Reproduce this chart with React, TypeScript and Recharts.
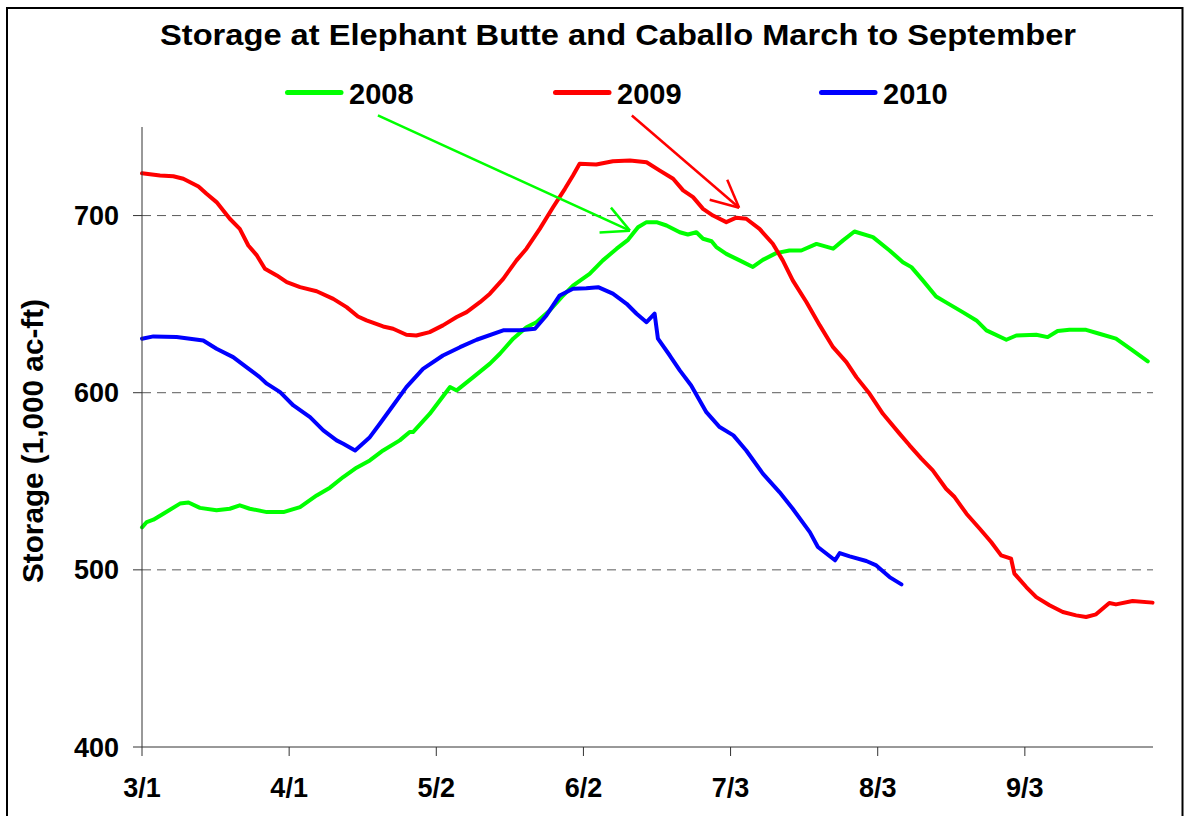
import { LineChart, Line, XAxis, YAxis, CartesianGrid, ReferenceLine } from 'recharts'

// days after 3/1
const tickDays = [0, 31, 62, 93, 124, 155, 186]
const tickLabels = ['3/1', '4/1', '5/2', '6/2', '7/3', '8/3', '9/3']
const yTicks = [400, 500, 600, 700]
const gridValues = [500, 600, 700]

const days2008 = [0, 1, 2.4, 4.5, 8, 9.8, 12.2, 15.7, 18.5, 20.6, 22.7, 26.3, 29.8, 33.3, 36.8, 39.6, 42.4, 45.2, 48, 50.8, 54.3, 56.4, 57.1, 60.6, 64.9, 66.3, 69.8, 73.3, 75.4, 78.2, 81, 83.1, 85.9, 88.4, 90.8, 94.3, 97.1, 100, 102.4, 104.5, 106.3, 108.4, 110.5, 113.3, 115, 116.8, 118.2, 120, 121, 123.1, 125.9, 128.7, 130.8, 133.6, 136.4, 138.9, 142.1, 145.6, 147.7, 150.1, 154, 157.5, 160.3, 162.1, 164.5, 167.3, 169.4, 172.9, 175.8, 177.9, 182.1, 184.2, 188.4, 190.8, 192.9, 195.4, 198.9, 201.7, 205.2, 208.7, 211.9]
const storage2008 = [524, 527, 528.3, 531.7, 537.4, 538, 535, 533.6, 534.5, 536.4, 534.5, 532.6, 532.6, 535.4, 542, 546.4, 552.4, 557.7, 561.8, 567.4, 573.1, 577.8, 577.8, 588, 603.2, 601.3, 608.8, 616.4, 622, 630.5, 637, 639.8, 646.4, 654, 660.5, 667.1, 674.7, 681.3, 686.3, 693.4, 696.3, 696.3, 694.4, 690.6, 689.3, 690.6, 686.9, 685.5, 682.2, 678.4, 674.7, 671, 675, 678.8, 680.3, 680.3, 684, 681.3, 686, 691, 687.8, 680.3, 673.7, 670.9, 663.4, 654.3, 651, 645.5, 640.8, 635.2, 629.9, 632.3, 632.7, 631.4, 634.8, 635.5, 635.5, 633.3, 630.5, 623.9, 617.7]

const days2009 = [0, 3.8, 6.6, 8.7, 11.9, 13.6, 15.7, 18.5, 20.6, 22.4, 24.2, 25.9, 28.4, 30.5, 33.3, 36.8, 40.3, 43.1, 45.5, 47.3, 50.8, 52.9, 55.7, 57.8, 60.6, 63.4, 66.3, 68.4, 71.2, 73.3, 76.1, 78.9, 81, 83.8, 86.6, 89.1, 90.8, 92.2, 95.7, 99.2, 102.8, 106.3, 109.1, 111.9, 114, 116.1, 118.2, 120.3, 123.1, 125.2, 127.3, 130.1, 132.9, 135, 137.1, 140, 142.8, 145.6, 148.4, 150.5, 153.3, 156.1, 159.6, 161.7, 164.2, 166.6, 169.4, 171.2, 173.7, 176.5, 178.9, 181, 183.1, 183.8, 186.3, 188.4, 191.2, 194, 196.8, 198.9, 201, 203.8, 205.2, 208.7, 212.9]
const storage2009 = [723.9, 722.6, 722.2, 720.8, 716.4, 712.3, 707.6, 698.2, 692.5, 683.1, 677.5, 670, 666.2, 662.4, 659.6, 657.3, 653, 648.3, 643, 640.8, 637.4, 636.1, 632.7, 632.3, 634.2, 638, 642.7, 645.5, 651.1, 655.9, 664.3, 674.7, 681.3, 692.5, 704.7, 715.1, 722.6, 729.2, 728.8, 730.7, 731.1, 730.1, 725.4, 720.8, 714.2, 710.4, 703.8, 700, 696.3, 698.8, 698.2, 692.5, 684.1, 674.7, 663.4, 651.1, 638, 625.7, 617.3, 608.8, 599.4, 588.1, 576.9, 570.3, 562.8, 556.2, 545.8, 541.1, 531.7, 523.2, 515.7, 508.2, 506.3, 497.9, 490.3, 484.6, 480, 476.2, 474.3, 473.4, 474.9, 481.3, 480.5, 482.4, 481.5]

const days2010 = [0, 2.4, 7.3, 12.9, 15.7, 19.2, 22, 24.8, 26.3, 29.1, 31.9, 35.4, 38.2, 41, 42.4, 44.9, 48, 50.1, 52.9, 55.7, 59.2, 63.4, 67, 70.5, 76.1, 79.6, 82.8, 85.2, 88, 90.8, 93.6, 96.1, 99.2, 102.1, 104.2, 106.3, 108, 108.7, 111.2, 113.3, 115.7, 118.9, 121.7, 124.6, 127.3, 130.8, 134.3, 137.1, 140.7, 142.4, 146, 147, 149.1, 152.6, 154.7, 157.5, 160]
const storage2010 = [630.5, 631.8, 631.4, 629.5, 624.8, 620.1, 614.4, 608.8, 605.1, 600.3, 592.8, 586.2, 578.7, 573.1, 571.2, 567.4, 574.9, 582.5, 592.8, 603.2, 613.5, 621, 625.7, 629.9, 635.2, 635.2, 636.1, 643.6, 654.9, 658.7, 659, 659.6, 655.9, 650.2, 644.6, 639.8, 644.6, 630.5, 621, 612.6, 604.1, 589, 580.6, 575.9, 567.4, 554.3, 543.9, 534.5, 521.3, 512.9, 505.4, 509.5, 507.6, 505, 502.5, 495.9, 491.8]

const seriesNames = ['2008', '2009', '2010']
const seriesColors = ['#00ff00', '#ff0000', '#0000ff']

const series = [
  { days: days2008, values: storage2008 },
  { days: days2009, values: storage2009 },
  { days: days2010, values: storage2010 },
].map((s, i) => ({
  name: seriesNames[i],
  color: seriesColors[i],
  data: s.days.map((d, j) => ({ day: d, value: s.values[j] })),
}))

const FONT = '"Liberation Sans", Arial, Helvetica, sans-serif'
const legendX = [285, 553, 819]

// annotation arrows, in data units (day, storage)
const arrows = [
  { color: '#00ff00', from: { x: 49.7, y: 756.5 }, tip: { x: 102.8, y: 691.5 }, arms: [{ x: 98.8, y: 704.5 }, { x: 96.4, y: 690.4 }] },
  { color: '#ff0000', from: { x: 103.2, y: 756.5 }, tip: { x: 125.8, y: 704.4 }, arms: [{ x: 123.3, y: 720.2 }, { x: 119.6, y: 708.9 }] },
]

export default function App() {
  return (
    <div style={{ position: 'absolute', left: 0, top: 0, width: 1185, height: 816, background: '#fff', overflow: 'hidden' }}>
      <LineChart
        width={1185}
        height={816}
        margin={{ top: 127, right: 32, bottom: 9, left: 82 }}
        style={{ position: 'absolute', left: 0, top: 0 }}
      >
        <CartesianGrid
          vertical={false}
          horizontalValues={gridValues}
          stroke="#5a5a5a"
          strokeWidth={1}
          strokeDasharray="9 6"
        />
        <XAxis
          type="number"
          dataKey="day"
          domain={[0, 213]}
          ticks={tickDays}
          tickFormatter={(v) => tickLabels[tickDays.indexOf(v)] ?? ''}
          height={60}
          tickSize={9}
          tickMargin={22}
          axisLine={{ stroke: '#333', strokeWidth: 1 }}
          tickLine={{ stroke: '#333' }}
          tick={{ fontSize: 27, fontWeight: 700, fill: '#000', fontFamily: FONT }}
          allowDuplicatedCategory={false}
        />
        <YAxis
          type="number"
          domain={[400, 750]}
          ticks={yTicks}
          width={60}
          tickSize={9}
          tickMargin={14}
          axisLine={{ stroke: '#333', strokeWidth: 1 }}
          tickLine={{ stroke: '#333' }}
          tick={{ fontSize: 27, fontWeight: 700, fill: '#000', fontFamily: FONT }}
        />
        {series.map((s) => (
          <Line
            key={s.name}
            data={s.data}
            dataKey="value"
            name={s.name}
            type="linear"
            stroke={s.color}
            strokeWidth={4}
            strokeLinejoin="round"
            strokeLinecap="round"
            dot={false}
            activeDot={false}
            isAnimationActive={false}
          />
        ))}
        {arrows.map((a, i) => [
          <ReferenceLine key={`a${i}`} segment={[a.from, a.tip]} stroke={a.color} strokeWidth={2.5} ifOverflow="visible" />,
          ...a.arms.map((p, j) => (
            <ReferenceLine key={`a${i}-${j}`} segment={[p, a.tip]} stroke={a.color} strokeWidth={2.5} ifOverflow="visible" />
          )),
        ])}
      </LineChart>
      <svg width={1185} height={816} style={{ position: 'absolute', left: 0, top: 0, pointerEvents: 'none' }}>
        <rect x={7} y={8} width={1175.5} height={900} fill="none" stroke="#000" strokeWidth={2} />
        <text
          x={618}
          y={45}
          textAnchor="middle"
          fontFamily={FONT}
          fontWeight={700}
          fontSize={30}
          textLength={916}
          lengthAdjust="spacingAndGlyphs"
        >
          Storage at Elephant Butte and Caballo March to September
        </text>
        {series.map((s, i) => (
          <g key={s.name}>
            <line x1={legendX[i] + 2.5} x2={legendX[i] + 56} y1={92.5} y2={92.5} stroke={s.color} strokeWidth={5} strokeLinecap="round" />
            <text x={legendX[i] + 64} y={104} fontFamily={FONT} fontWeight={700} fontSize={29} fill="#000">
              {s.name}
            </text>
          </g>
        ))}
        <text
          transform="translate(43,441) rotate(-90)"
          textAnchor="middle"
          fontFamily={FONT}
          fontWeight={700}
          fontSize={29}
          textLength={284}
          lengthAdjust="spacingAndGlyphs"
        >
          Storage (1,000 ac-ft)
        </text>
      </svg>
    </div>
  )
}
